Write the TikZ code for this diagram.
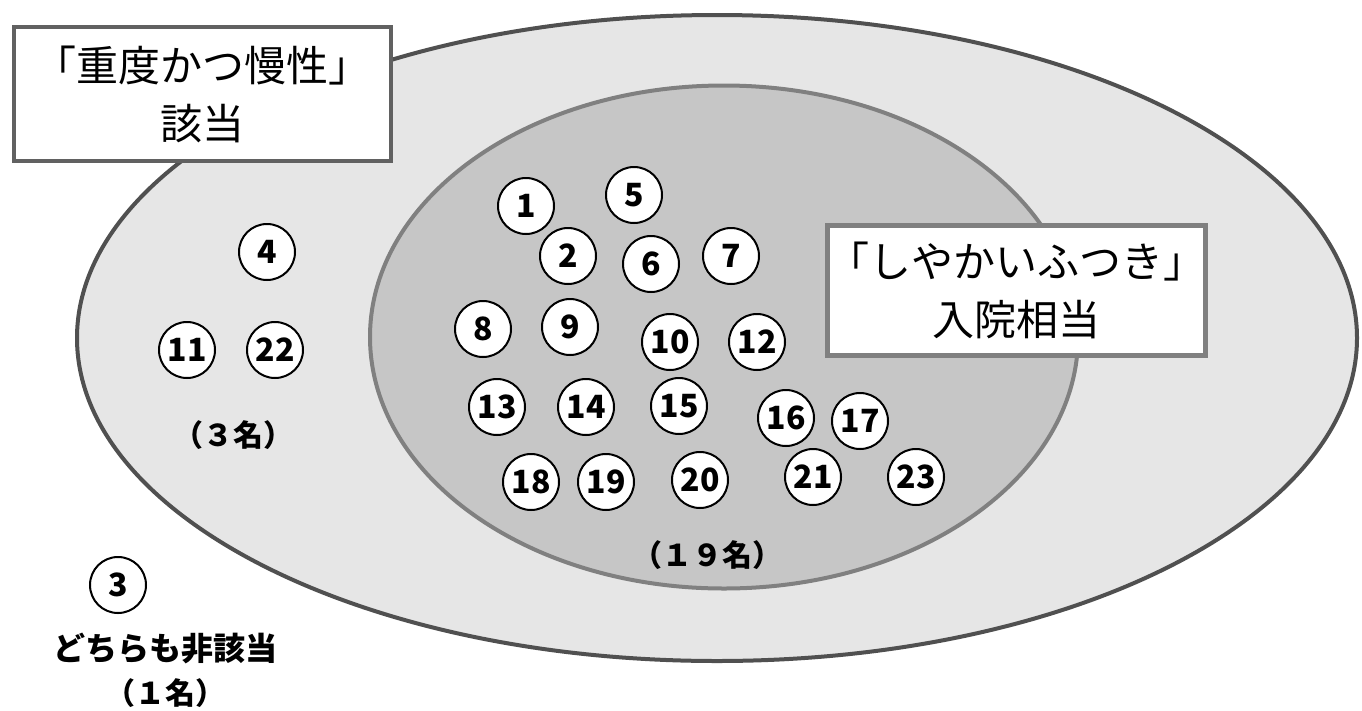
\documentclass[tikz,border=0pt]{standalone}
\usepackage{fontspec}
\usepackage{xcolor}
\usepackage{tikz}
\usetikzlibrary{positioning,shapes.geometric}
\newfontfamily\jpfont{Noto Sans CJK JP}
\definecolor{outerfill}{HTML}{E6E6E6}
\definecolor{innerfill}{HTML}{C6C6C6}
\definecolor{outerline}{HTML}{505050}
\definecolor{innerline}{HTML}{808080}

\begin{document}
\begin{tikzpicture}[x=1pt, y=-1pt,
  region/.style={ellipse, draw, line width=4pt, inner sep=0pt},
  box/.style={draw, fill=white, line width=4.5pt, align=center,
              inner sep=0pt, font=\jpfont\fontsize{42}{58}\selectfont},
  num/.style={circle, draw, fill=white, line width=2pt, minimum size=56pt,
              inner sep=0pt, font=\jpfont\bfseries\fontsize{32}{32}\selectfont},
  count/.style={font=\jpfont\bfseries\fontsize{30}{30}\selectfont}
]
  \useasboundingbox (0,0) rectangle (1362,710);

  % the two sets
  \node[region, fill=outerfill, draw=outerline, minimum width=1280pt, minimum height=646pt]
    (severe) at (717,338) {};
  \node[region, fill=innerfill, draw=innerline, minimum width=708pt, minimum height=503pt]
    (hosp) at (724,337) {};

  % set titles
  \node[box, draw=outerline!90, minimum width=377pt, minimum height=134pt]
    (severetitle) at (202.5,94) {「重度かつ慢性」\\該当};
  \node[box, draw=innerline, line width=5pt, minimum width=375pt, minimum height=130pt]
    (hosptitle) at (1016.5,290) {「しやかいふつき」\\入院相当};

  % cases in both sets
  \node[num] (p1) at (526,206) {1};
  \node[num] (p2) at (568,256) {2};
  \node[num] (p5) at (634,195) {5};
  \node[num] (p6) at (651,264) {6};
  \node[num] (p7) at (731,256) {7};
  \node[num] (p8) at (483,329) {8};
  \node[num] (p9) at (570,327) {9};
  \node[num] (p10) at (670,342) {10};
  \node[num] (p12) at (757,342) {12};
  \node[num] (p13) at (497,407) {13};
  \node[num] (p14) at (586,407) {14};
  \node[num] (p15) at (679,406) {15};
  \node[num] (p16) at (786,418) {16};
  \node[num] (p17) at (860,421) {17};
  \node[num] (p18) at (531,482) {18};
  \node[num] (p19) at (606,482) {19};
  \node[num] (p20) at (700,480) {20};
  \node[num] (p21) at (813,477) {21};
  \node[num] (p23) at (916,477) {23};
  \node[count] (hospcount) at (707,555) {（１９名）};

  % cases in the outer set only
  \node[num] (p4) at (267,252) {4};
  \node[num] (p11) at (187,350) {11};
  \node[num] (p22) at (275,350) {22};
  \node[count] (severecount) at (233,435) {（３名）};

  % case in neither
  \node[num] (p3) at (118,585) {3};
  \node[count, font=\jpfont\bfseries\fontsize{32}{32}\selectfont] (neither) at (165,648) {どちらも非該当};
  \node[count, below=8pt of neither] (neithercount) {（１名）};
\end{tikzpicture}
\end{document}
